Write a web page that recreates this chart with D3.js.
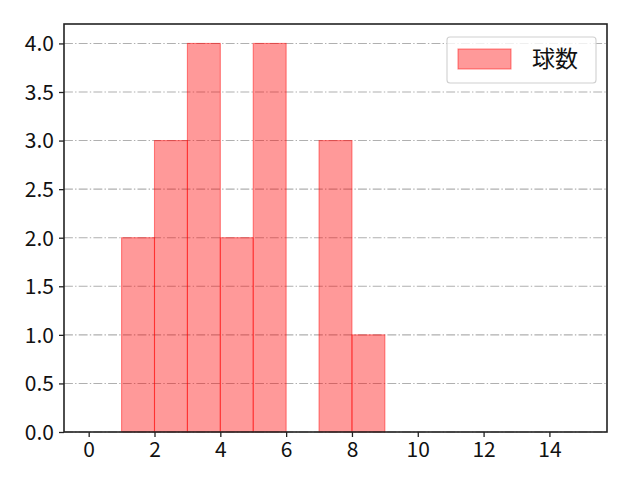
<!DOCTYPE html>
<html><head><meta charset="utf-8">
<script src="https://cdn.jsdelivr.net/npm/d3@7"></script>
<style>body{margin:0;background:#fff}text{font-family:"Noto Sans CJK JP","Noto Sans",sans-serif;}</style>
</head><body><svg id="c" width="640" height="480"></svg>
<script>
const binStarts = [1, 2, 3, 4, 5, 6, 7, 8];
const binCounts = [2, 3, 4, 2, 4, 0, 3, 1];
const binWidth = 1;
const xTicks = [0, 2, 4, 6, 8, 10, 12, 14];
const yTicks = [0, 0.5, 1.0, 1.5, 2.0, 2.5, 3.0, 3.5, 4.0];
const seriesName = "球数";

const svg = d3.select("#c");
const L = 64, R = 607, T = 24, B = 432;
const x = d3.scaleLinear().domain([-0.75, 15.75]).range([L, R]);
const y = d3.scaleLinear().domain([0, 4.2]).range([B, T]);
const fs = 21;

// grid
svg.append("g").selectAll("line").data(yTicks).join("line")
  .attr("x1", L).attr("x2", R).attr("y1", d => y(d)).attr("y2", d => y(d))
  .attr("stroke", "#b0b0b0").attr("stroke-width", 1.1)
  .attr("stroke-dasharray", "8.9,2.2,1.4,2.2");

// bars
const bars = binStarts.map((s, i) => ({s, c: binCounts[i]})).filter(d => d.c > 0);
svg.append("g").selectAll("rect").data(bars).join("rect")
  .attr("x", d => x(d.s)).attr("width", d => x(d.s + binWidth) - x(d.s))
  .attr("y", d => y(d.c)).attr("height", d => y(0) - y(d.c))
  .attr("fill", "rgba(255,0,0,0.4)").attr("stroke", "rgba(255,0,0,0.45)").attr("stroke-width", 1.1);

// axes
const xa = svg.append("g").attr("transform", `translate(0,${B})`)
  .call(d3.axisBottom(x).tickValues(xTicks).tickFormat(d3.format("d")).tickSize(5).tickPadding(5));
const ya = svg.append("g").attr("transform", `translate(${L},0)`)
  .call(d3.axisLeft(y).tickValues(yTicks).tickFormat(d3.format(".1f")).tickSize(5).tickPadding(5));
[xa, ya].forEach(a => {
  a.select(".domain").remove();
  a.selectAll("line").attr("stroke", "#222").attr("stroke-width", 1.3);
  a.selectAll("text").attr("font-size", fs).attr("fill", "#111")
    .style("font-family", '"Noto Sans CJK JP","Noto Sans",sans-serif');
});
ya.selectAll("text").attr("dy", "0.35em");

svg.append("rect").attr("x", L).attr("y", T).attr("width", R - L).attr("height", B - T)
  .attr("fill", "none").attr("stroke", "#222").attr("stroke-width", 1.6);

// legend
const lg = svg.append("g");
lg.append("rect").attr("x", 447).attr("y", 37).attr("width", 149).attr("height", 46).attr("rx", 3)
  .attr("fill", "rgba(255,255,255,0.8)").attr("stroke", "#d0d0d0").attr("stroke-width", 1.1);
lg.append("rect").attr("x", 458).attr("y", 49).attr("width", 53).attr("height", 20)
  .attr("fill", "rgba(255,0,0,0.4)").attr("stroke", "rgba(255,0,0,0.45)").attr("stroke-width", 1.1);
lg.append("text").attr("x", 532).attr("y", 59).attr("dy", "0.35em").attr("font-size", 23)
  .attr("fill", "#111").text(seriesName);
</script></body></html>
